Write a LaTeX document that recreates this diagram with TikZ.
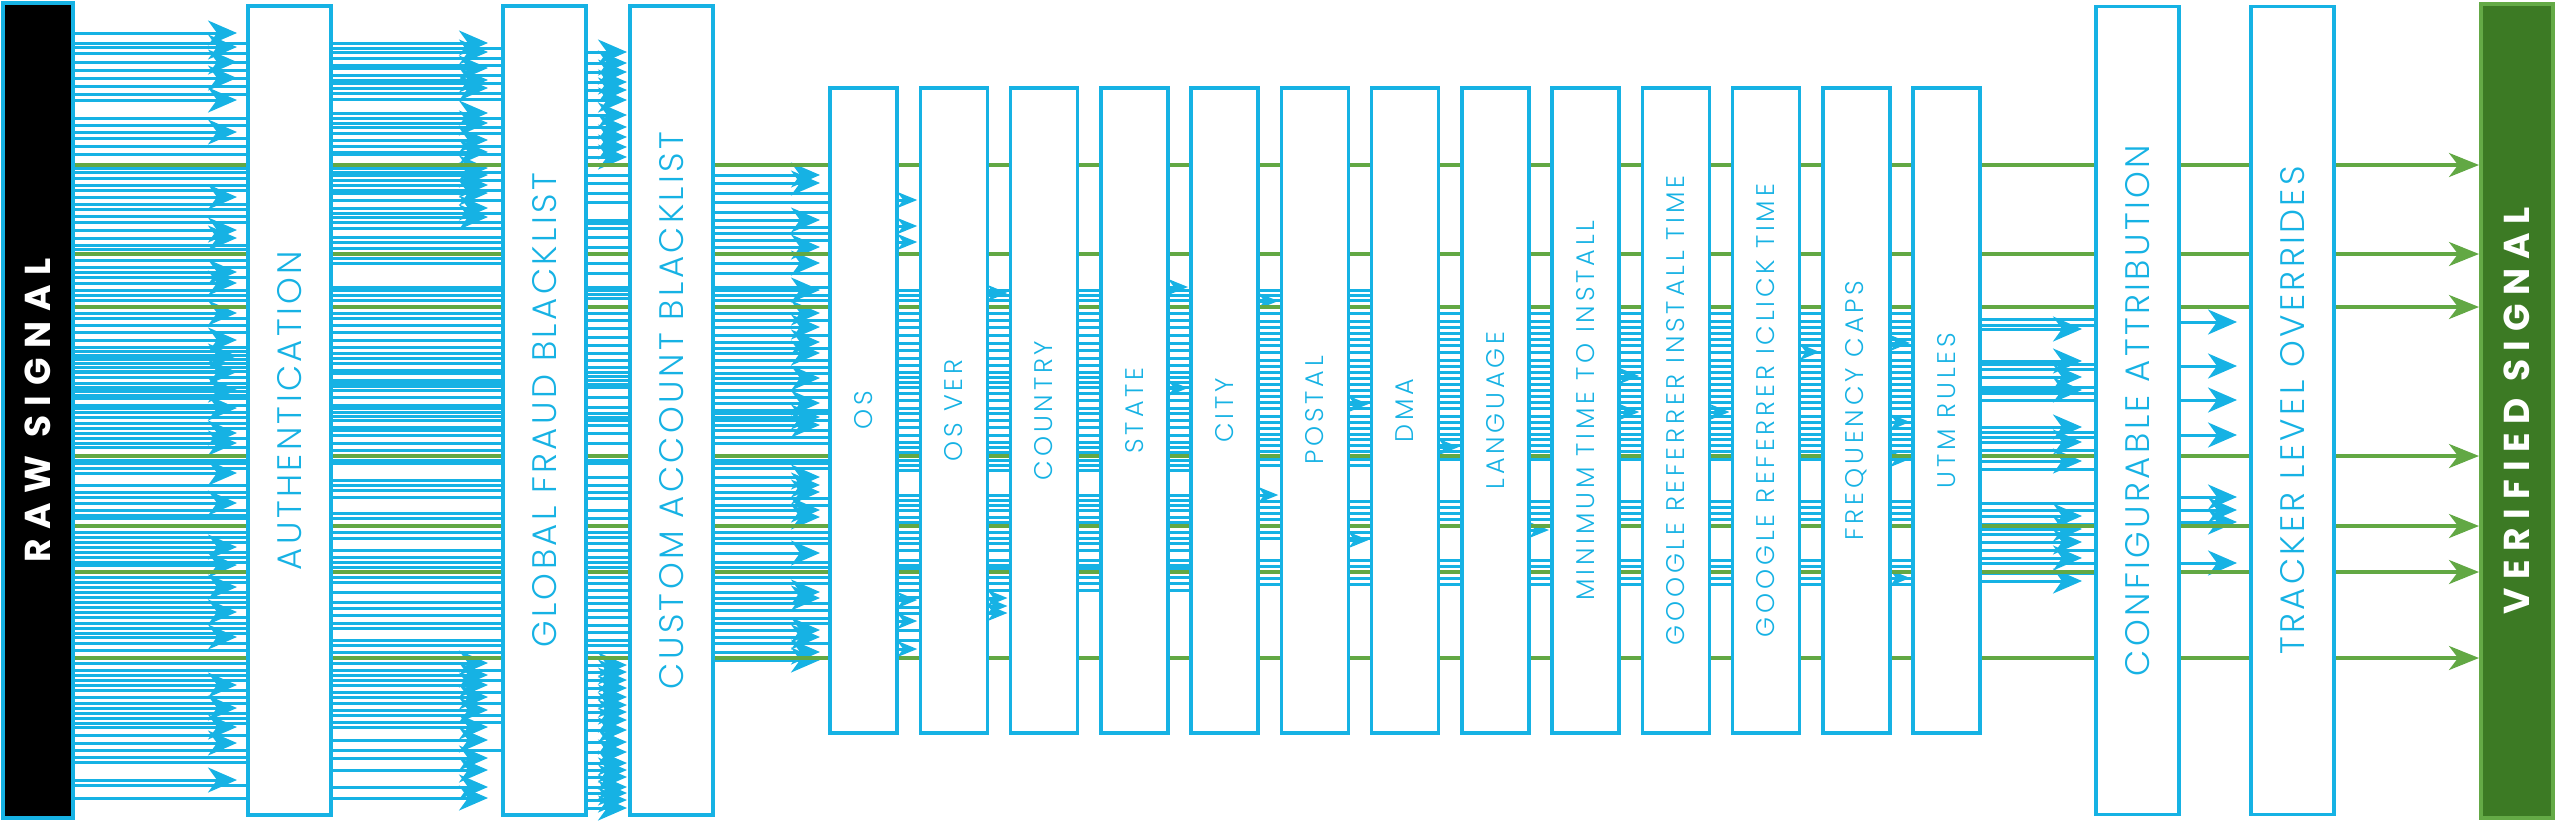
\documentclass[tikz,border=0pt]{standalone}
\usepackage{fontspec}
\usetikzlibrary{arrows.meta,calc,backgrounds}
\IfFontExistsTF{Poppins Light}{%
  \newfontfamily\labfont[LetterSpace=10]{Poppins Light}%
  \newfontfamily\slabfont[LetterSpace=15]{Poppins Light}}{%
  \newfontfamily\labfont[LetterSpace=10]{Poppins}%
  \newfontfamily\slabfont[LetterSpace=15]{Poppins}}
\newfontfamily\blabfont[LetterSpace=24]{Poppins}
\newfontfamily\rlabfont[LetterSpace=27]{Poppins}
\definecolor{cblue}{RGB}{22,178,228}
\definecolor{cgreen}{RGB}{98,168,68}
\definecolor{vfill}{RGB}{60,122,36}
\definecolor{vline}{RGB}{100,170,70}
% line lists (y in px from top)
\def\Lgreen{165,254,307,456,526,572,658}
\def\PA{43,53,62,70,78,86,94,118,125,138,146,154,168,172,178,185,190,204,209,216,222,245,249,260,267,277,290,295,300,318,325,332,347,351,355,359,363,367,371,377,383,387,391,395,398,405,412,417,423,428,438,447,460,463,468,485,492,497,510,515,518,532,537,542,552,557,562,577,582,592,597,602,607,617,623,628,633,643,650,663,670,675,680,690,697,703,713,718,723,735,750,757,762,785,798}
\def\AA{33,47,62,78,100,132,197,230,238,272,283,313,340,356,372,390,408,433,443,473,503,547,565,587,612,637,685,708,727,743,780}
\def\PB{48,58,65,75,83,93,99,118,127,133,146,154,172,180,190,200,213,222,228,237,242,248,258,263,287,290,295,300,313,318,325,332,340,347,353,358,363,370,373,380,383,386,390,397,405,408,412,416,420,427,430,435,443,450,460,463,480,485,490,497,513,518,532,538,550,557,562,567,577,582,592,602,608,615,623,628,640,645,652,670,680,692,703,715,722,750}
\def\AB{43,52,68,80,88,113,123,140,152,168,175,185,193,208,217,663,675,685,697,710,727,740,758,770,787,798}
\def\PC{175,183,193,202,220,223,228,237,247,263,273,287,290,294,298,313,320,328,337,345,353,360,367,372,376,380,384,387,397,407,413,417,420,425,433,443,460,463,477,485,492,498,510,518,532,537,543,550,557,562,567,577,583,590,597,603,610,617,625,632,640,645,652}
\def\AC{52,63,72,82,90,100,115,127,137,147,157,665,672,680,688,697,705,712,720,730,742,752,763,770,777,787,793,800,808}
\def\PD{193,202,212,227,233,240,273,287,295,300,320,335,348,360,367,373,383,390,397,410,413,420,430,437,443,460,463,468,498,505,532,538,543,562,567,577,583,603,610,618,623,643}
\def\AD{175,183,220,247,263,290,313,327,342,353,378,403,417,425,477,485,492,510,517,553,592,598,630,637,652,660}
\def\Sa{290,295,300,313,320,327,335,343,350,358,365,372,377,382,387,393,400,408,413,420,427,435,442,447,452,460,465,470,495,500,505,510,517,522,532,538,543,550,560,565,568,577,583,590}
\def\Sb{290,295,300,313,321,327,333,339,345,352,360,366,372,378,384,390,396,402,408,416,422,428,434,439,445,451,459,465,501,507,513,519,532,538,560,566,578,584}
\def\Sc{313,321,327,333,339,345,352,360,366,372,378,384,390,396,402,408,416,422,428,434,439,445,451,459,501,507,513,519,560,566,578,584}
\def\Pk{597,607,613,630,640}
\def\Ak{200,226,242,600,621,649}
\def\Al{293,598,606,613}
\def\Am{287,388}
\def\An{301,495}
\def\Ao{404,540}
\def\Ap{447}
\def\Aq{530}
\def\Ar{376,412}
\def\As{412}
\def\At{352}
\def\Au{343,422,459,578}
\def\PQ{319,325,364,369,387,393,400,432,437,450,469,503,510,524,534,550,563,573}
\def\AQ{329,361,377,390,427,442,461,516,529,542,558,581}
\def\AR{322,366,400,435,497,510,522,563}
\newcommand\plainrun[3]{\foreach \yy in #3 {\draw[bl] (#1.east |- 0,\yy) -- (#2.west |- 0,\yy);}}
\newcommand\arrowrun[5]{\foreach \yy in #3 {\draw[bl,#5] (#1.east |- 0,\yy) -- ($(#2.west |- 0,\yy)+(-#4,0)$);}}
\begin{document}
\begin{tikzpicture}[x=1pt,y=-1pt,
  box/.style={rectangle,draw=cblue,line width=3.5pt,fill=white,inner sep=0pt,outer sep=0pt},
  bl/.style={draw=cblue,line width=3pt},
  gr/.style={draw=cgreen,line width=3.6pt},
  bigtip/.style={-{Stealth[length=29pt,width=25pt,inset=9pt]}},
  smalltip/.style={-{Stealth[length=20pt,width=16pt,inset=6pt]}},
  greentip/.style={-{Stealth[length=30pt,width=24pt,inset=9pt]}},
  lab/.style={rotate=90,text=cblue,inner sep=0pt,font=\labfont\fontsize{34}{40}\selectfont},
  slab/.style={rotate=90,text=cblue,inner sep=0pt,font=\slabfont\fontsize{25.5}{30}\selectfont},
  blab/.style={rotate=90,text=white,inner sep=0pt,font=\blabfont\bfseries\fontsize{36}{44}\selectfont},
  rlab/.style={rotate=90,text=white,inner sep=0pt,font=\rlabfont\bfseries\fontsize{36}{44}\selectfont}]
\path[use as bounding box] (0,0) rectangle (2560,822);
% boxes
\node[box,fill=black,minimum width=70pt,minimum height=815pt] (raw) at (38,410.5) {};
\node[box,minimum width=83pt,minimum height=809pt] (auth) at (289.5,410.5) {};
\node[box,minimum width=83pt,minimum height=809pt] (gfb) at (544.5,410.5) {};
\node[box,minimum width=83pt,minimum height=809pt] (cab) at (671.5,410.5) {};
\foreach \i in {0,...,12}
  \node[box,minimum width=67pt,minimum height=645pt] (s\i) at ({863.5+90.25*\i},410.5) {};
\node[box,minimum width=83pt,minimum height=808pt] (conf) at (2137.5,410.5) {};
\node[box,minimum width=83pt,minimum height=808pt] (trk) at (2292.5,410.5) {};
\node[box,draw=vline,fill=vfill,minimum width=72pt,minimum height=814pt] (ver) at (2517,411) {};
% labels
\node[rlab] (rawt) at (raw.center) {RAW SIGNAL};
\node[blab] (vert) at (ver.center) {VERIFIED SIGNAL};
\node[lab] (autht) at (auth.center) {AUTHENTICATION};
\node[lab] (gfbt) at (gfb.center) {GLOBAL FRAUD BLACKLIST};
\node[lab] (cabt) at (cab.center) {CUSTOM ACCOUNT BLACKLIST};
\node[lab] (conft) at (conf.center) {CONFIGURABLE ATTRIBUTION};
\node[lab] (trkt) at (trk.center) {TRACKER LEVEL OVERRIDES};
\foreach \i/\t in {0/OS,1/OS VER,2/COUNTRY,3/STATE,4/CITY,5/POSTAL,6/DMA,7/LANGUAGE,8/MINIMUM TIME TO INSTALL,9/GOOGLE REFERRER INSTALL TIME,10/GOOGLE REFERRER ICLICK TIME,11/FREQUENCY CAPS,12/UTM RULES}
  \node[slab] (t\i) at (s\i.center) {\t};
% connectors
\begin{scope}[on background layer]
\plainrun{raw}{auth}{\PA}
\arrowrun{raw}{auth}{\AA}{11}{bigtip}
\plainrun{auth}{gfb}{\PB}
\arrowrun{auth}{gfb}{\AB}{15}{bigtip}
\plainrun{gfb}{cab}{\PC}
\arrowrun{gfb}{cab}{\AC}{3}{bigtip}
\plainrun{cab}{s0}{\PD}
\arrowrun{cab}{s0}{\AD}{10}{bigtip}
\plainrun{s0}{s1}{\Sa}
\plainrun{s0}{s1}{\Pk}
\arrowrun{s0}{s1}{\Ak}{3}{smalltip}
\plainrun{s1}{s2}{\Sa}
\arrowrun{s1}{s2}{\Al}{3}{smalltip}
\plainrun{s2}{s3}{\Sa}
\plainrun{s3}{s4}{\Sa}
\arrowrun{s3}{s4}{\Am}{3}{smalltip}
\plainrun{s4}{s5}{\Sb}
\arrowrun{s4}{s5}{\An}{3}{smalltip}
\plainrun{s5}{s6}{\Sb}
\arrowrun{s5}{s6}{\Ao}{3}{smalltip}
\plainrun{s6}{s7}{\Sc}
\arrowrun{s6}{s7}{\Ap}{3}{smalltip}
\plainrun{s7}{s8}{\Sc}
\arrowrun{s7}{s8}{\Aq}{3}{smalltip}
\plainrun{s8}{s9}{\Sc}
\arrowrun{s8}{s9}{\Ar}{3}{smalltip}
\plainrun{s9}{s10}{\Sc}
\arrowrun{s9}{s10}{\As}{3}{smalltip}
\plainrun{s10}{s11}{\Sc}
\arrowrun{s10}{s11}{\At}{3}{smalltip}
\plainrun{s11}{s12}{\Sc}
\arrowrun{s11}{s12}{\Au}{3}{smalltip}
\plainrun{s12}{conf}{\PQ}
\arrowrun{s12}{conf}{\AQ}{14}{bigtip}
\arrowrun{conf}{trk}{\AR}{14}{bigtip}
\foreach \yy in \Lgreen {\draw[gr,greentip] (raw.east |- 0,\yy) -- ($(ver.west |- 0,\yy)+(-2,0)$);}
\end{scope}
\end{tikzpicture}
\end{document}
